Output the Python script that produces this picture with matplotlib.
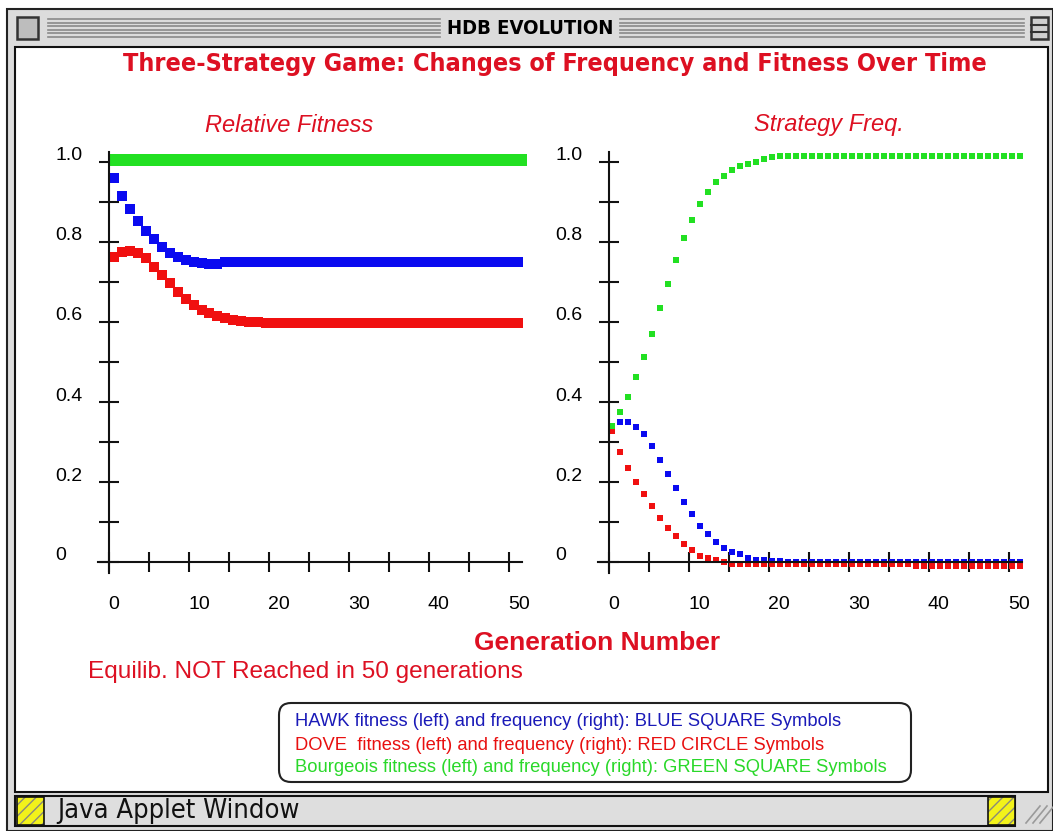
import matplotlib
matplotlib.use("Agg")
import matplotlib.pyplot as plt
from matplotlib.patches import Rectangle, FancyBboxPatch
from matplotlib.transforms import ScaledTranslation

# ---- data ----
gens = list(range(52))

hawk_fit = [0.961, 0.915, 0.882, 0.853, 0.828, 0.807, 0.788, 0.773, 0.763, 0.755,
            0.749, 0.747, 0.745, 0.745, 0.750] + [0.751] * 37
dove_fit = [0.762, 0.776, 0.778, 0.772, 0.759, 0.738, 0.718, 0.697, 0.676, 0.658,
            0.643, 0.630, 0.622, 0.615, 0.609, 0.605, 0.602, 0.601, 0.600] + [0.598] * 33
bourg_fit = [1.005] * 52

hawk_freq = [0.333, 0.349, 0.349, 0.338, 0.320, 0.290, 0.255, 0.219, 0.184, 0.149,
             0.119, 0.090, 0.070, 0.049, 0.034, 0.024, 0.019, 0.010, 0.006, 0.006,
             0.002, 0.002] + [0.0] * 30
dove_freq = [0.328, 0.274, 0.234, 0.199, 0.169, 0.139, 0.110, 0.085, 0.065, 0.044,
             0.029, 0.014, 0.009, 0.005, 0.0] + [-0.005] * 23 + [-0.011] * 14
bourg_freq = [0.340, 0.375, 0.413, 0.463, 0.513, 0.569, 0.634, 0.694, 0.755, 0.811,
              0.855, 0.895, 0.924, 0.949, 0.966, 0.980, 0.990, 0.995, 1.000, 1.007,
              1.012] + [1.015] * 31

y_major = [0, 0.2, 0.4, 0.6, 0.8, 1.0]
y_labels = ["0", "0.2", "0.4", "0.6", "0.8", "1.0"]
y_minor = [0.1, 0.3, 0.5, 0.7, 0.9]
x_major = [0, 10, 20, 30, 40, 50]
x_labels = ["0", "10", "20", "30", "40", "50"]
x_minor = [5, 15, 25, 35, 45]

legend_lines = [
    "HAWK fitness (left) and frequency (right): BLUE SQUARE Symbols",
    "DOVE  fitness (left) and frequency (right): RED CIRCLE Symbols",
    "Bourgeois fitness (left) and frequency (right): GREEN SQUARE Symbols",
]

BLUE = "#0a0af0"
RED = "#f01010"
GREEN = "#22e022"
TXTRED = "#dd1022"
FONT = ["Liberation Sans", "DejaVu Sans"]

W, H = 1053, 831
fig = plt.figure(figsize=(W / 100, H / 100), dpi=100)
fig.patch.set_facecolor("white")

# background axes in pixel coordinates for window chrome and text
bg = fig.add_axes([0, 0, 1, 1], zorder=0)
bg.set_xlim(0, W)
bg.set_ylim(H, 0)
bg.axis("off")

# window frame
bg.add_patch(Rectangle((7, 9), W - 7, H - 9, facecolor="#dcdcdc", edgecolor="#222222", lw=1.5))
# title bar stripes
for yy in [19, 22.5, 26, 29.5, 33, 36.5]:
    bg.plot([48, 440], [yy, yy], color="#8a8a8a", lw=1.2)
    bg.plot([620, 1024], [yy, yy], color="#8a8a8a", lw=1.2)
bg.add_patch(Rectangle((17, 17), 21, 22, facecolor="#bdbdbd", edgecolor="#333333", lw=1.8))
bg.add_patch(Rectangle((1031, 17), 17, 22, facecolor="#cfcfcf", edgecolor="#333333", lw=1.8))
bg.plot([1031, 1048], [24.5, 24.5], color="#333333", lw=1.5)
bg.plot([1031, 1048], [31.5, 31.5], color="#333333", lw=1.5)
bg.text(530, 28, "HDB EVOLUTION", ha="center", va="center", fontsize=14.5,
        fontweight="bold", family="DejaVu Sans", fontstretch="condensed", color="black")

# content area
bg.add_patch(Rectangle((15, 47), 1033, 745, facecolor="white", edgecolor="#111111", lw=1.5))

# status bar
bg.add_patch(Rectangle((15, 796), 1000, 30, facecolor="#dedede", edgecolor="#111111", lw=1.5))
for x0 in [17, 988]:
    bg.add_patch(Rectangle((x0, 797), 27, 28, facecolor="#f2f21a", edgecolor="#8a8a7a",
                           hatch="///", lw=0))
    bg.add_patch(Rectangle((x0, 797), 27, 28, facecolor="none", edgecolor="#111111", lw=1.2))
bg.text(57, 811, "Java Applet Window", ha="left", va="center", fontsize=19.5,
        family="DejaVu Sans", fontstretch="condensed", color="#111111")
for k in range(3):
    bg.plot([1026 + 7 * k, 1040 + 7 * k], [823, 806], color="#9a9a9a", lw=1.2)

# texts
bg.text(555, 64, "Three-Strategy Game: Changes of Frequency and Fitness Over Time",
        ha="center", va="center", fontsize=18, fontweight="bold", family="DejaVu Sans",
        fontstretch="condensed", color=TXTRED)
bg.text(289, 125, "Relative Fitness", ha="center", va="center", fontsize=17,
        style="italic", family=FONT, color=TXTRED)
bg.text(829, 125, "Strategy Freq.", ha="center", va="center", fontsize=17,
        style="italic", family=FONT, color=TXTRED)
bg.text(597, 643, "Generation Number", ha="center", va="center", fontsize=19,
        fontweight="bold", family=FONT, color=TXTRED)
bg.text(88, 672, "Equilib. NOT Reached in 50 generations", ha="left", va="center",
        fontsize=17.6, family=FONT, color=TXTRED)

# legend box
bg.add_patch(FancyBboxPatch((279, 703), 632, 79, boxstyle="round,pad=0,rounding_size=12",
                            facecolor="white", edgecolor="#222222", lw=1.5))
for txt, col, yy in zip(legend_lines, ["#1a1ab8", "#e81010", "#2ad82a"], [722, 745, 767]):
    bg.text(295, yy, txt, ha="left", va="center", fontsize=13.2, family=FONT, color=col)


def make_axes(x0):
    # gen 0 at pixel x0, 8 px per generation; value 0 at y=562, 400 px per unit
    xl, xr = -1.4, 51.6
    yb, yt = -0.028, 1.025
    left = x0 + 8 * xl
    width = 8 * (xr - xl)
    bottom = 562 - 400 * yb
    height = 400 * (yt - yb)
    ax = fig.add_axes([left / W, (H - bottom) / H, width / W, height / H], zorder=2)
    ax.patch.set_alpha(0)
    ax.set_xlim(xl, xr)
    ax.set_ylim(yb, yt)
    for s in ["top", "right"]:
        ax.spines[s].set_visible(False)
    ax.spines["left"].set_position(("data", 0))
    ax.spines["bottom"].set_position(("data", 0))
    for s in ["left", "bottom"]:
        ax.spines[s].set_linewidth(1.5)
        ax.spines[s].set_color("#111111")
    ax.set_yticks(y_major)
    ax.set_yticklabels(y_labels)
    ax.set_yticks(y_minor, minor=True)
    ax.set_xticks(x_major)
    ax.set_xticklabels(x_labels)
    ax.set_xticks(x_minor, minor=True)
    ax.tick_params(which="both", direction="inout", length=14.4, width=1.5, color="#111111")
    ax.tick_params(axis="y", which="major", pad=31.5, labelsize=14)
    ax.tick_params(axis="x", which="major", pad=17, labelsize=14)
    for lbl in ax.get_yticklabels():
        lbl.set_ha("left")
        lbl.set_family(FONT)
        lbl.set_transform(lbl.get_transform() + ScaledTranslation(0, 0.08, fig.dpi_scale_trans))
    for lbl in ax.get_xticklabels():
        lbl.set_ha("left")
        lbl.set_family(FONT)
        lbl.set_transform(lbl.get_transform() + ScaledTranslation(-0.01, 0, fig.dpi_scale_trans))
    return ax


# the applet draws each square from its left edge, so shift marks right by half a square
ax1 = make_axes(109)
shift1 = ax1.transData + ScaledTranslation(0.045, 0, fig.dpi_scale_trans)
ax1.plot(gens, hawk_fit, ls="none", marker="s", ms=7.2, mew=0, color=BLUE, transform=shift1)
ax1.plot(gens, dove_fit, ls="none", marker="s", ms=7.2, mew=0, color=RED, transform=shift1)
ax1.plot(gens, bourg_fit, ls="none", marker="s", ms=8.4, mew=0, color=GREEN, transform=shift1,
         clip_on=False)

ax2 = make_axes(609)
shift2 = ax2.transData + ScaledTranslation(0.03, 0, fig.dpi_scale_trans)
ax2.plot(gens, hawk_freq, ls="none", marker="s", ms=4.3, mew=0, color=BLUE, clip_on=False,
         transform=shift2)
ax2.plot(gens, dove_freq, ls="none", marker="s", ms=4.3, mew=0, color=RED, clip_on=False,
         transform=shift2)
ax2.plot(gens, bourg_freq, ls="none", marker="s", ms=4.3, mew=0, color=GREEN, clip_on=False,
         transform=shift2)

fig.savefig("out.png", dpi=100)
